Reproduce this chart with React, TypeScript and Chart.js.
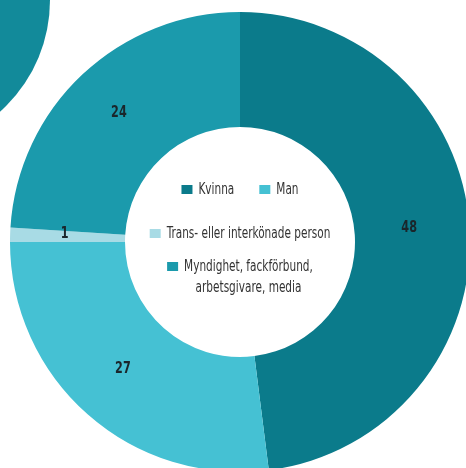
import React, { useEffect, useRef } from "react";
import { Chart, registerables } from "chart.js";
Chart.register(...registerables);

const categories = ["Kvinna", "Man", "Trans- eller interkönade person", "Myndighet, fackförbund, arbetsgivare, media"];
const values = [48, 27, 1, 24];
const colors = ["#0b7b8b", "#45c1d3", "#a8dbe5", "#1b9aac"];
// legend layout: which categories share a row, and how long labels wrap
const legendRows = [[0, 1], [2], [3]];
const legendLines: Record<number, string[]> = {
  3: ["Myndighet, fackförbund,", "arbetsgivare, media"],
};

const FONT = '"Liberation Sans Narrow", "DejaVu Sans Condensed", "Roboto", sans-serif';
const SX = 0.78; // horizontal squeeze to imitate the condensed face

function fillCondensed(ctx: CanvasRenderingContext2D, text: string, x: number, y: number) {
  ctx.save();
  ctx.translate(x, y);
  ctx.scale(SX, 1);
  ctx.fillText(text, 0, 0);
  ctx.restore();
}

const centerPlugin = {
  id: "centerLegendAndLabels",
  afterDatasetsDraw(chart: any) {
    const ctx = chart.ctx as CanvasRenderingContext2D;
    const meta = chart.getDatasetMeta(0);
    const first = meta.data[0];
    const cx = first.x;
    const cy = first.y;
    ctx.save();
    // value labels
    ctx.font = `bold 16px ${FONT}`;
    ctx.fillStyle = "#1a262b";
    ctx.textAlign = "center";
    ctx.textBaseline = "middle";
    meta.data.forEach((arc: any, i: number) => {
      const p = arc.tooltipPosition(false);
      fillCondensed(ctx, String(values[i]), p.x - 3, p.y - 3);
    });
    // legend
    ctx.font = `15px ${FONT}`;
    ctx.textAlign = "left";
    const sq = 11;
    const gap = 6;
    const itemGap = 25;
    const rowY = [cy - 52, cy - 8, cy + 25];
    const lineH = 21;
    const mw = (t: string) => ctx.measureText(t).width * SX;
    legendRows.forEach((row, r) => {
      const widths = row.map((i) => {
        const lines = legendLines[i] || [categories[i]];
        return sq + gap + mw(lines[0]);
      });
      const total = widths.reduce((a, b) => a + b, 0) + itemGap * (row.length - 1);
      let x = cx - total / 2;
      row.forEach((i, k) => {
        const lines = legendLines[i] || [categories[i]];
        const y = rowY[r];
        ctx.fillStyle = colors[i];
        ctx.fillRect(x, y - 5, sq, 9);
        ctx.fillStyle = "#333333";
        const tx = x + sq + gap;
        const w0 = mw(lines[0]);
        fillCondensed(ctx, lines[0], tx, y);
        for (let l = 1; l < lines.length; l++) {
          const wl = mw(lines[l]);
          fillCondensed(ctx, lines[l], tx + w0 / 2 - wl / 2, y + lineH * l);
        }
        x += widths[k] + itemGap;
      });
    });
    ctx.restore();
  },
};

export default function App() {
  const ref = useRef<HTMLCanvasElement | null>(null);
  useEffect(() => {
    if (!ref.current) return;
    const chart = new Chart(ref.current, {
      type: "doughnut",
      data: {
        labels: categories,
        datasets: [
          {
            data: values,
            backgroundColor: colors,
            borderWidth: 0,
          },
        ],
      },
      options: {
        animation: false,
        responsive: false,
        cutout: "50%",
        layout: { padding: 10 },
        plugins: {
          legend: { display: false },
          tooltip: { enabled: false },
        },
      },
      plugins: [centerPlugin],
    });
    return () => chart.destroy();
  }, []);
  return (
    <div
      style={{
        position: "fixed",
        left: 0,
        top: 0,
        width: 466,
        height: 468,
        overflow: "hidden",
        background: "#ffffff",
      }}
    >
      <div
        style={{
          position: "absolute",
          left: -250,
          top: -150,
          width: 300,
          height: 300,
          borderRadius: "50%",
          background: "#128a9a",
        }}
      />
      <canvas
        ref={ref}
        width={480}
        height={484}
        style={{ position: "absolute", left: 0, top: 0, width: 480, height: 484 }}
      />
    </div>
  );
}
